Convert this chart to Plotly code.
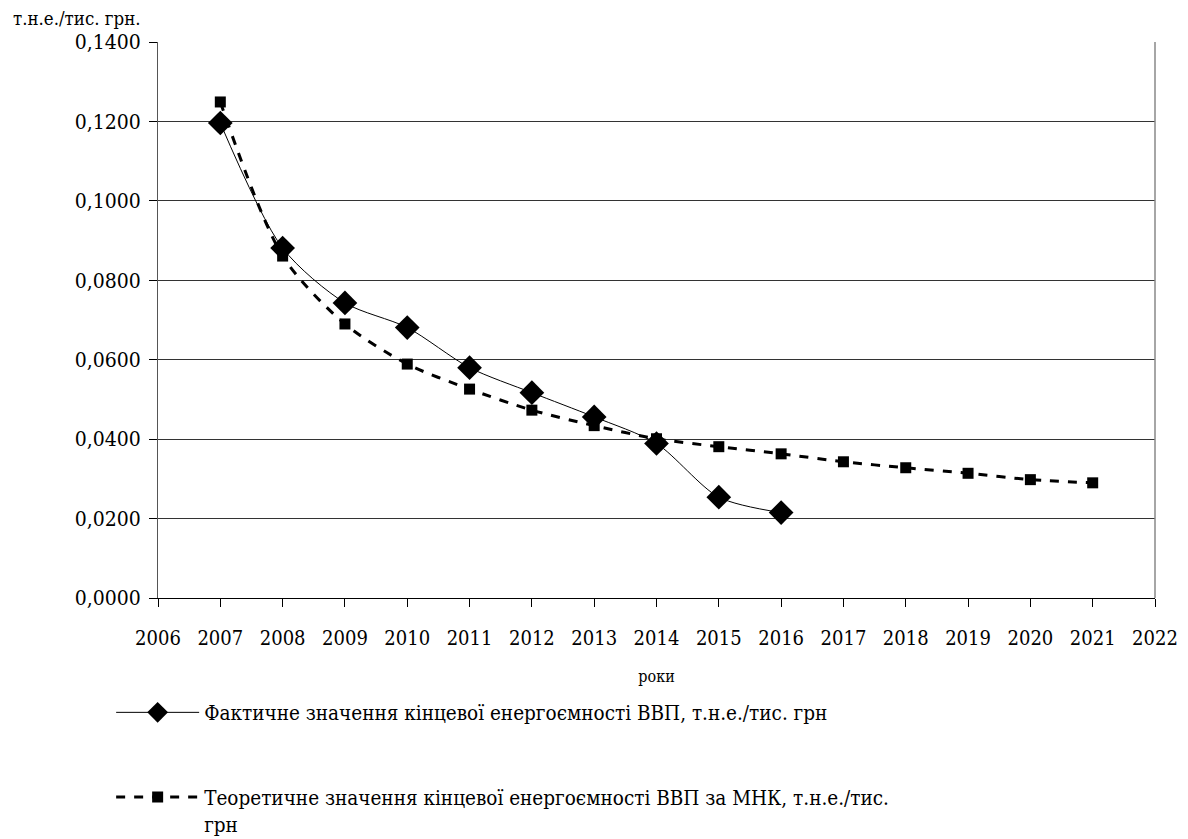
import plotly.graph_objects as go

years_actual = [2007, 2008, 2009, 2010, 2011, 2012, 2013, 2014, 2015, 2016]
actual = [0.1196, 0.0881, 0.0743, 0.0681, 0.0580, 0.0517, 0.0456, 0.0389, 0.0254, 0.0215]

years_theory = list(range(2007, 2022))
theory = [0.1249, 0.0861, 0.0690, 0.0589, 0.0526, 0.0473, 0.0434, 0.0401, 0.0381,
          0.0363, 0.0343, 0.0328, 0.0314, 0.0298, 0.0290]

x_ticks = list(range(2006, 2023))
y_ticks = [0.0, 0.02, 0.04, 0.06, 0.08, 0.10, 0.12, 0.14]

name_actual = "Фактичне значення кінцевої енергоємності ВВП, т.н.е./тис. грн"
name_theory = "Теоретичне значення кінцевої енергоємності ВВП за МНК, т.н.е./тис.<br>грн"

FONT = "DejaVu Serif Condensed, DejaVu Serif, serif"

fig = go.Figure()
fig.add_trace(go.Scatter(
    x=years_actual, y=actual, name=name_actual, mode="lines+markers",
    line=dict(color="black", width=1, shape="spline", smoothing=0.8),
    marker=dict(symbol="diamond", size=19, color="black"),
    legendgroup="a",
))
fig.add_trace(go.Scatter(
    x=years_theory, y=theory, name=name_theory, mode="lines+markers",
    line=dict(color="black", width=3, dash="dash", shape="spline", smoothing=0.8),
    marker=dict(symbol="square", size=11, color="black"),
    legendgroup="b",
))

fig.update_layout(
    width=1180, height=831,
    margin=dict(l=150, r=33, t=34, b=241, autoexpand=False),
    paper_bgcolor="white", plot_bgcolor="white",
    font=dict(family=FONT, color="black", size=20),
    separators=", ",
    showlegend=True,
    legend=dict(
        x=-0.047, xanchor="left", y=-0.17, yanchor="top",
        font=dict(size=20.5, family=FONT), tracegroupgap=55,
        valign="top", itemwidth=83, bgcolor="rgba(0,0,0,0)",
    ),
    xaxis=dict(
        range=[2006, 2022], tickvals=x_ticks, ticktext=[str(v) for v in x_ticks],
        showgrid=False, zeroline=False, showline=True, linecolor="black", linewidth=1,
        ticks="outside", ticklen=8, tickcolor="black", ticklabelstandoff=14,
        tickfont=dict(size=20), title=dict(text="роки", font=dict(size=16), standoff=21),
        mirror=False,
    ),
    yaxis=dict(
        range=[0, 0.14], tickvals=y_ticks, tickformat=".4f",
        showgrid=True, gridcolor="#333333", gridwidth=1,
        zeroline=False, showline=True, linecolor="#555555", linewidth=1,
        ticks="outside", ticklen=8, tickcolor="black", ticklabelstandoff=4,
        tickfont=dict(size=21),
    ),
    annotations=[dict(
        text="т.н.е./тис. грн.", xref="paper", yref="paper", x=-0.147, y=1.0,
        xanchor="left", yanchor="bottom", yshift=11, showarrow=False,
        font=dict(size=18.5, family=FONT),
    )],
    shapes=[dict(type="line", xref="paper", yref="paper", x0=1, x1=1, y0=0, y1=1,
                 line=dict(color="#888888", width=1.5))],
)

fig.write_html("out.html")
